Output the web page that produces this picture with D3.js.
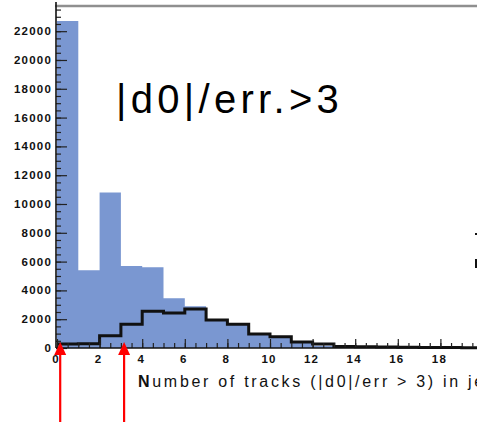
<!DOCTYPE html>
<html>
<head>
<meta charset="utf-8">
<script src="https://cdn.jsdelivr.net/npm/d3@7"></script>
<style>
  html, body { margin: 0; padding: 0; background: #fff; overflow: hidden; }
  svg { display: block; }
</style>
</head>
<body>
<script>
// Track multiplicity: number of tracks with |d0|/err > 3 per jet
const binLow = d3.range(0, 20);                // bin lower edges, width 1
const allJets = [22700, 5400, 10800, 5700, 5600, 3450, 2900, 1900, 1600, 950, 750, 400, 150, 60, 40, 30, 20, 10, 10, 5];
const bJets   = [280, 300, 850, 1650, 2550, 2430, 2700, 1950, 1650, 970, 780, 420, 270, 110, 90, 70, 50, 40, 30, 20];
const xTicks = [0, 2, 4, 6, 8, 10, 12, 14, 16, 18];
const yTicks = [0, 2000, 4000, 6000, 8000, 10000, 12000, 14000, 16000, 18000, 20000, 22000];
const arrowAt = [0.15, 3.15];                   // marked multiplicities

const W = 477, H = 422;
const svg = d3.select("body").append("svg").attr("width", W).attr("height", H);

const x = d3.scaleLinear().domain([0, 20]).range([57, 483]);
const y = d3.scaleLinear().domain([0, 23700]).range([348, 6.7]);

function steps(vals) {
  const pts = [];
  binLow.forEach((d, i) => { pts.push([x(d), y(vals[i])]); pts.push([x(d + 1), y(vals[i])]); });
  return pts;
}

// filled histogram
svg.append("path")
  .attr("d", d3.area().x(p => p[0]).y0(y(0)).y1(p => p[1])(steps(allJets)))
  .attr("fill", "#7a97d1");

// outline histogram
svg.append("path")
  .attr("d", d3.line()(steps(bJets)))
  .attr("fill", "none").attr("stroke", "#111").attr("stroke-width", 3);

// frame top
svg.append("line").attr("x1", 55).attr("x2", W).attr("y1", 6).attr("y2", 6)
  .attr("stroke", "#8f8f8f").attr("stroke-width", 2.5);

// y axis
const gy = svg.append("g").attr("transform", `translate(${x(0) - 1},0)`);
gy.append("g").call(d3.axisRight(y).tickValues(d3.range(0, 23700, 500)).tickSize(5).tickFormat(""))
  .call(g => g.select(".domain").remove());
gy.append("g").call(d3.axisRight(y).tickValues(yTicks).tickSize(11).tickFormat(""))
  .call(g => g.select(".domain").remove());
gy.selectAll("line").attr("stroke", "#222").attr("stroke-width", 1.2);
gy.append("line").attr("x1", 0).attr("x2", 0).attr("y1", 2).attr("y2", y(0))
  .attr("stroke", "#111").attr("stroke-width", 1.6);
svg.append("g").selectAll("text").data(yTicks).join("text")
  .attr("x", 52).attr("y", d => y(d) + 4)
  .attr("text-anchor", "end")
  .attr("font-family", "Liberation Sans, Arial, sans-serif")
  .attr("font-size", 11.5).attr("font-weight", "bold").attr("letter-spacing", 1.2)
  .attr("fill", "#111")
  .text(d => d);

// x axis
const gx = svg.append("g").attr("transform", `translate(0,${y(0)})`);
gx.append("g").call(d3.axisTop(x).tickValues(d3.range(0, 20.01, 0.5)).tickSize(5).tickFormat(""))
  .call(g => g.select(".domain").remove());
gx.append("g").call(d3.axisTop(x).tickValues(xTicks).tickSize(9).tickFormat(""))
  .call(g => g.select(".domain").remove());
gx.selectAll("line").attr("stroke", "#222").attr("stroke-width", 1.2);
gx.append("line").attr("x1", x(0) - 1).attr("x2", W).attr("y1", 0).attr("y2", 0)
  .attr("stroke", "#111").attr("stroke-width", 1.6);
svg.append("g").selectAll("text").data(xTicks).join("text")
  .attr("x", d => x(d) - 1).attr("y", 363)
  .attr("text-anchor", "middle")
  .attr("font-family", "Liberation Sans, Arial, sans-serif")
  .attr("font-size", 11.5).attr("font-weight", "bold").attr("letter-spacing", 1.2)
  .attr("fill", "#111")
  .text(d => d);

// axis title (runs past the right edge of the view)
const xt = svg.append("text").attr("x", 138).attr("y", 387)
  .attr("font-family", "Liberation Sans, Arial, sans-serif")
  .attr("font-size", 16).attr("letter-spacing", 2.7).attr("fill", "#111");
xt.append("tspan").attr("font-weight", "bold").text("N");
xt.append("tspan").text("umber of tracks (|d0|/err > 3) in jets");

// selection label
svg.append("text").attr("x", 116).attr("y", 113)
  .attr("font-family", "Liberation Sans, Arial, sans-serif")
  .attr("font-size", 40).attr("letter-spacing", 4.3).attr("fill", "#000")
  .text("|d0|/err.>3");

// legend edge
svg.append("line").attr("x1", 475).attr("x2", W).attr("y1", 234).attr("y2", 234)
  .attr("stroke", "#111").attr("stroke-width", 2);
svg.append("rect").attr("x", 475).attr("y", 259).attr("width", 3).attr("height", 9).attr("fill", "#111");

// arrows
const ag = svg.append("g").selectAll("g").data(arrowAt).join("g");
ag.append("line")
  .attr("x1", d => x(d)).attr("x2", d => x(d)).attr("y1", H).attr("y2", 353)
  .attr("stroke", "#f00").attr("stroke-width", 2.2);
ag.append("path")
  .attr("d", d => `M${x(d)},342 L${x(d) - 6},355 L${x(d) + 6},355 Z`)
  .attr("fill", "#f00");
</script>
</body>
</html>
